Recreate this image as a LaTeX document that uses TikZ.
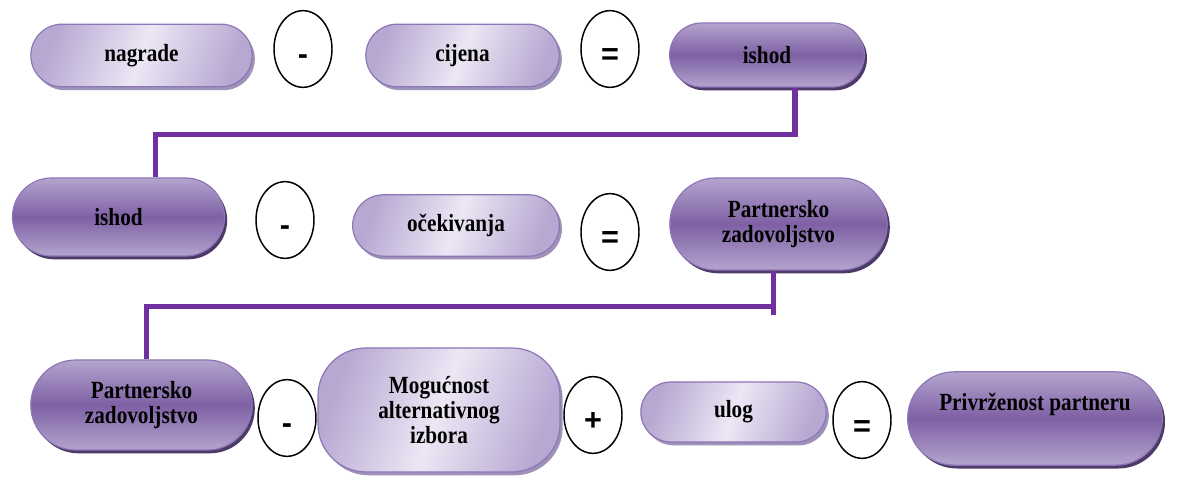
\documentclass[tikz,border=0pt]{standalone}
\usepackage{fontspec}
\setmainfont{Liberation Serif}[FakeStretch=0.86]
\newfontfamily\opfont{Liberation Sans}
\usetikzlibrary{shapes.geometric,shapes.misc,shadows}
\definecolor{lpEdge}{RGB}{183,168,210}
\definecolor{lpMid}{RGB}{236,231,244}
\definecolor{lpShadow}{RGB}{158,146,184}
\definecolor{dpEdge}{RGB}{180,164,206}
\definecolor{dpMid}{RGB}{126,96,164}
\definecolor{dpShadow}{RGB}{78,58,104}
\definecolor{pillBorder}{RGB}{142,118,182}
\definecolor{linkColor}{RGB}{112,48,160}
\begin{document}
\begin{tikzpicture}[x=0.75pt, y=-0.75pt, line join=round, line cap=round,
	font=\fontsize{18.5}{19}\selectfont\bfseries,
	pill/.style={rounded rectangle, draw=pillBorder, line width=0.9pt, align=center, inner sep=2pt},
	lightpill/.style={pill, left color=lpEdge, right color=lpEdge, middle color=lpMid, shading angle=70,
		drop shadow={fill=lpShadow, opacity=1, shadow xshift=2pt, shadow yshift=-2.5pt}},
	darkpill/.style={pill, top color=dpEdge, bottom color=dpEdge, middle color=dpMid,
		drop shadow={fill=dpShadow, opacity=1, shadow xshift=2pt, shadow yshift=-2.5pt}},
	op/.style={ellipse, draw, line width=1.1pt, fill=white, minimum width=43.5pt, minimum height=57.5pt,
		inner sep=0pt, font=\opfont\fontsize{23}{23}\selectfont\bfseries, text height=24pt, text depth=0pt},
	link/.style={draw=linkColor, line width=3.8pt, line cap=butt, line join=miter}]
	\fill[white] (0,0) rectangle (1179,477);
	\useasboundingbox (0,0) rectangle (1179,477);
	% prvi red
	\node[lightpill, minimum width=170pt, minimum height=47pt] (nagrade) at (141.5,55.5) {nagrade};
	\node[lightpill, minimum width=149pt, minimum height=47pt] (cijena) at (462.5,55.5) {cijena};
	\node[darkpill, minimum width=150pt, minimum height=48pt] (ishodA) at (767,55) {ishod};
	% drugi red
	\node[darkpill, minimum width=163pt, minimum height=58.5pt] (ishodB) at (118.5,217) {ishod};
	\node[lightpill, minimum width=159pt, minimum height=46pt] (ocek) at (456,225.5) {očekivanja};
	\node[darkpill, minimum width=167pt, minimum height=69pt] (zadA) at (778.5,224) {Partnersko\\zadovoljstvo};
	% treci red
	\node[darkpill, minimum width=170pt, minimum height=67.5pt] (zadB) at (141.5,405) {Partnersko\\zadovoljstvo};
	\node[lightpill, rectangle, rounded corners=36pt, minimum width=181.5pt, minimum height=93pt] (alt) at (439,410)
		{Mogućnost\\alternativnog\\izbora};
	\node[lightpill, minimum width=143pt, minimum height=45pt] (ulog) at (733.5,412) {ulog};
	\node[darkpill, minimum width=195pt, minimum height=70pt] (priv) at (1035,418.5) {Privrženost partneru\\\strut};
	% operatori
	\foreach \n/\p/\s in {minA/{303,49}/-, eqA/{610,49}/=, minB/{285,220}/-, eqB/{610,232}/=,
		minC/{287,418}/-, plusC/{593,415}/+, eqC/{862,420}/=}
		\node[op] (\n) at (\p) {\s};
	% veze
	\draw[link] ([xshift=21pt]ishodA.south) -- ++(0pt,-35pt) -| ([xshift=28pt]ishodB.north);
	\draw[link] ([xshift=-3.75pt]zadA.south) -- ++(0pt,-33.5pt);
	\draw[link] ([xshift=-3.75pt,yshift=-27pt]zadA.south) -| ([xshift=3.4pt]zadB.north);
\end{tikzpicture}
\end{document}
